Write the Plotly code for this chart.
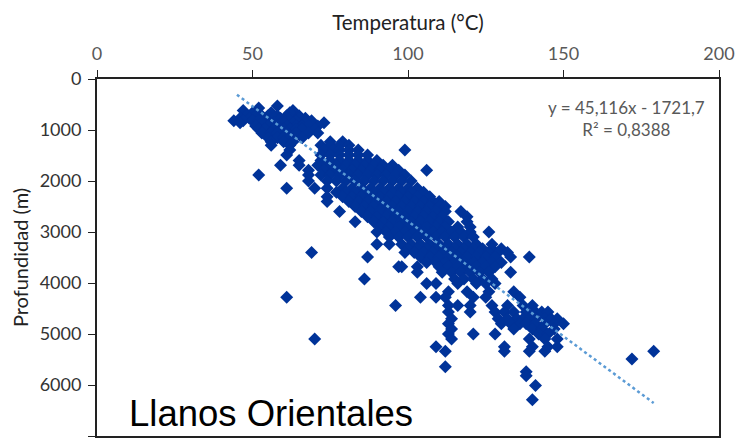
import plotly.graph_objects as go

# (depth, temperatures), row by row
rows = [
    (530, [58]), (570, [52]), (620, [47, 63]), (660, [50, 56, 62]),
    (720, [48, 51, 53, 55, 58, 61, 65]), (770, [46, 49, 53, 57, 59, 62, 65, 67]),
    (820, [44, 47, 50, 52, 55, 60, 62, 64, 69]), (860, [46, 53, 57, 60, 63, 67, 73]),
    (920, [51, 55, 58, 61, 64, 66, 68, 71]), (980, [52, 54, 57, 60, 62, 64, 66, 70]),
    (1060, [53, 56, 58, 61, 64, 68, 71]), (1150, [55, 58, 60, 62, 66]),
    (1230, [56, 60, 63, 75, 79]), (1300, [56, 62, 72, 75, 78, 81]),
    (1390, [62, 73, 76, 78, 81, 84, 99]),
    (1490, [61, 72, 75, 78, 81, 84, 87]),
    (1600, [65, 72, 75, 78, 81, 84, 87, 90]),
    (1690, [59, 65, 71, 74, 77, 80, 83, 86, 89, 92, 95]),
    (1790, [68, 73, 76, 79, 82, 85, 88, 91, 94, 97, 106]),
    (1880, [52, 68, 72, 75, 78, 81, 84, 87, 90, 93, 96, 99]),
    (2000, [68, 74, 77, 80, 83, 86, 89, 92, 95, 98, 101]),
    (2140, [61, 70, 74, 79, 82, 85, 88, 91, 94, 97, 100, 103]),
    (2220, [77, 80, 83, 86, 89, 92, 95, 98, 101, 105]),
    (2310, [74, 79, 82, 85, 88, 91, 94, 97, 100, 103, 107]),
    (2400, [74, 81, 84, 87, 90, 93, 96, 99, 102, 105, 108, 110]),
    (2500, [83, 86, 89, 92, 95, 98, 101, 104, 107, 110, 112]),
    (2600, [78, 85, 88, 91, 94, 97, 100, 103, 106, 109, 112, 117]),
    (2700, [87, 90, 93, 96, 99, 102, 105, 108, 111, 119]),
    (2800, [83, 89, 92, 95, 98, 101, 104, 107, 110, 113, 119]),
    (2900, [91, 94, 97, 100, 103, 106, 109, 112, 116, 120]),
    (3000, [90, 93, 96, 99, 102, 105, 108, 111, 114, 117, 120, 126]),
    (3100, [94, 97, 100, 103, 106, 109, 112, 115, 118, 121]),
    (3240, [90, 94, 98, 101, 104, 107, 110, 113, 116, 119, 122, 127]),
    (3330, [100, 103, 106, 109, 112, 115, 118, 121, 124, 127, 130]),
    (3400, [69, 99, 102, 105, 108, 111, 114, 117, 120, 123, 126, 129, 132]),
    (3490, [87, 104, 107, 110, 113, 116, 119, 122, 125, 128, 133, 139]),
    (3600, [106, 109, 112, 115, 118, 121, 124, 127, 130]),
    (3680, [97, 98, 103, 110, 113, 116, 119, 122, 125, 128]),
    (3790, [103, 111, 114, 117, 120, 123, 126, 133]),
    (3920, [86, 115, 118, 121, 124, 127]),
    (4010, [106, 109, 116, 122, 125, 128]),
    (4170, [113, 119, 126, 134]),
    (4280, [61, 104, 109, 112, 121, 125, 136]),
    (4440, [96, 113, 116, 120, 127, 132, 137, 140]),
    (4570, [113, 120, 128, 131, 134, 138, 141, 143, 145]),
    (4700, [114, 129, 132, 135, 137, 139, 141, 144, 146, 148]),
    (4800, [113, 130, 133, 136, 138, 141, 144, 147, 150]),
    (4900, [114, 134, 140, 143, 147]),
    (5000, [113, 121, 128, 142, 145]),
    (5100, [70, 114, 139, 144, 148]),
    (5250, [109, 131, 140, 145, 148]),
    (5340, [112, 131, 139, 144, 179]),
    (5490, [172]), (5640, [112]), (5740, [138]), (5820, [138]),
    (6010, [141]), (6290, [140]),
]
temperatura = [t for d, ts in rows for t in ts]
profundidad = [d for d, ts in rows for t in ts]

trend_x = [45, 179]
trend_y = [309, 6354]

x_ticks = [0, 50, 100, 150, 200]
y_ticks = [0, 1000, 2000, 3000, 4000, 5000, 6000, 7000]

fig = go.Figure()
fig.add_trace(go.Scatter(x=temperatura, y=profundidad, mode="markers",
                         marker=dict(symbol="diamond", size=10, color="#003399"), cliponaxis=False))
fig.add_trace(go.Scatter(x=trend_x, y=trend_y, mode="lines",
                         line=dict(color="#5B9BD5", width=2.5, dash="dot")))

fig.update_layout(
    width=736, height=442, autosize=False, showlegend=False,
    paper_bgcolor="white", plot_bgcolor="white",
    margin=dict(l=97, r=17, t=79, b=6),
    font=dict(family="Lato, Open Sans, sans-serif"),
    xaxis=dict(side="top", range=[0, 200], tickvals=x_ticks, ticks="outside", ticklen=7,
               automargin=False, ticklabelstandoff=3,
               tickcolor="#222", linecolor="#222", linewidth=2, mirror=True, showgrid=False,
               zeroline=False, tickfont=dict(size=18, color="#595959"),
               title=dict(text="Temperatura (°C)", font=dict(size=20.5, color="#222"), standoff=6)),
    yaxis=dict(range=[7000, 0], tickvals=y_ticks, tickformat="d", ticks="outside", ticklen=7,
               automargin=False, ticklabelstandoff=3,
               tickcolor="#222", linecolor="#222", linewidth=2, mirror=True, showgrid=False,
               zeroline=False, tickfont=dict(size=18, color="#333"),
               title=dict(text="Profundidad (m)", font=dict(size=20, color="#222"), standoff=6)),
    annotations=[
        dict(xref="paper", yref="paper", x=0.852, y=0.955, xanchor="center", yanchor="top",
             showarrow=False, align="center",
             text="y = 45,116x - 1721,7<br>R² = 0,8388",
             font=dict(size=17, color="#595959")),
        dict(xref="paper", yref="paper", x=0.048, y=0.0, xanchor="left", yanchor="bottom",
             showarrow=False, text="Llanos Orientales",
             font=dict(family="Liberation Sans", size=36.5, color="black")),
    ],
)
fig.write_html("out.html", default_width="736px", default_height="442px",
               config=dict(displayModeBar=False),
               post_script="document.body.style.margin='0';document.documentElement.style.overflow='hidden';")
